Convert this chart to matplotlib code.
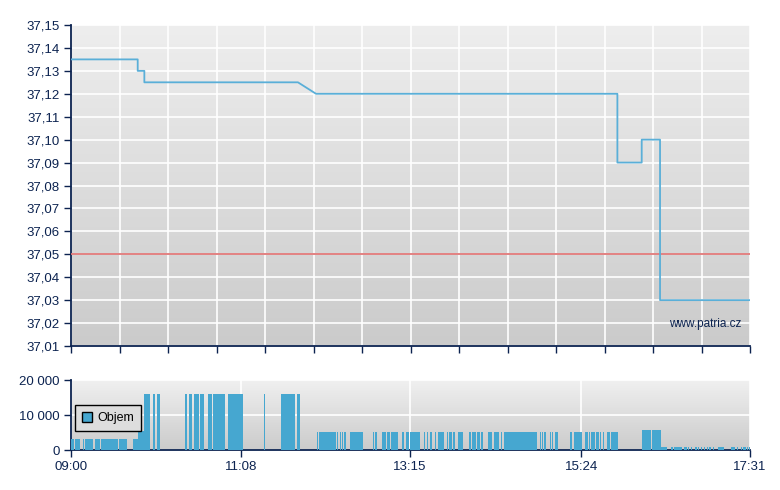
import numpy as np
import matplotlib
matplotlib.use('Agg')
import matplotlib.pyplot as plt
from matplotlib.patches import Patch

NAVY = '#0c2350'
LINE_BLUE = '#5aafd8'
BAR_BLUE = '#46a7d0'

# price (minutes since 09:00)
price_t = [0, 50.2, 50.2, 55.2, 55.2, 170.8, 184.4, 411.2, 411.2, 429.5, 429.5, 443.3, 443.3, 511]
price_v = [37.135, 37.135, 37.13, 37.13, 37.125, 37.125, 37.12, 37.12, 37.09, 37.09, 37.10, 37.10, 37.03, 37.03]
prev_close = 37.05

# volume blocks (minutes since 09:00)
vol_start = [0, 3.2, 8.8, 10.5, 18.3, 22.8, 36.4, 46.4, 50.2, 54.9, 61.9, 64.9, 85.8, 88.8, 92.8,
             97.3, 103.1, 107.1, 118.4, 145.3, 158, 170.1, 185.4, 186.4, 200.4, 202.2, 203.7, 205.5,
             210, 227.3, 229, 234, 237.8, 241.1, 242.6, 249.1, 252.1, 255.1, 265.7, 267.9, 270.2,
             273.9, 276.2, 283, 284.7, 287.7, 291.3, 299.5, 301.8, 305.6, 308.6, 313.8, 318.3, 323.6,
             325.9, 353, 354.5, 356, 360.5, 362, 364.3, 375.5, 378.6, 386.8, 389.8, 391.3, 395.1,
             398.1, 400.4, 403.4, 406.4, 429.7, 437.3, 444, 451.6, 453.8, 461.3, 464.4, 466.6, 469.6,
             471.9, 474.2, 476.4, 478.7, 480.2, 483.2, 486.9, 496.7, 501.2, 504.2, 505.7, 508.5, 510.2]
vol_end = [2.3, 6.8, 9.8, 16.8, 21.8, 35.6, 41.9, 50.2, 54.9, 59.5, 63.4, 67.2, 87.1, 91.3, 96.3,
           100.1, 106.1, 116.1, 129.2, 146, 168.4, 172.3, 186.1, 199.4, 201.2, 203, 204.5, 206.7,
           219.5, 228, 230.5, 237.1, 239.9, 242.1, 246.1, 250.9, 254.4, 262.7, 266.7, 268.7, 271.4,
           274.7, 280.7, 283.7, 287, 289, 295, 301, 304.8, 307.8, 310.1, 316.8, 322.1, 324.6,
           350.7, 353.7, 355.2, 357.5, 361.2, 362.7, 366.5, 377, 384.6, 389.1, 390.6, 394.4, 397.4,
           398.9, 401.1, 405.6, 411.7, 436.5, 444, 448.5, 453.1, 459.9, 463.6, 465.1, 467.3, 471.1,
           472.6, 474.9, 477.2, 479.4, 481.7, 483.9, 491.5, 499.7, 502, 505, 508, 509.2, 511]
vol_size = [3200] * 8 + [5400] + [16000] * 13 + [5100] * 49 + [5700, 5700] + [850] * 14 + [900] * 6

xtick_pos = [0, 128, 255, 384, 511]
xtick_lab = ['09:00', '11:08', '13:15', '15:24', '17:31']
price_ticks = [37.01 + 0.01 * i for i in range(15)]

plt.rcParams['font.family'] = ['Liberation Sans', 'DejaVu Sans']

fig = plt.figure(figsize=(7.8, 4.9), dpi=100)
ax = fig.add_axes([71 / 780, 1 - 346 / 490, 679 / 780, 321 / 490])
axv = fig.add_axes([71 / 780, 1 - 450 / 490, 679 / 780, 70 / 490])


def gradient_bg(a, top='#eeeeee', bottom='#cbcbcb'):
    g = np.linspace(0, 1, 256).reshape(-1, 1)
    cmap = matplotlib.colors.LinearSegmentedColormap.from_list('bg', [top, bottom])
    a.imshow(g, aspect='auto', cmap=cmap, extent=[0, 1, 0, 1], transform=a.transAxes, zorder=0)


def style(a):
    for s in ['top', 'right']:
        a.spines[s].set_visible(False)
    for s in ['left', 'bottom']:
        a.spines[s].set_color(NAVY)
        a.spines[s].set_linewidth(1.3)
    a.tick_params(colors=NAVY, labelcolor=NAVY, length=5, width=1, labelsize=9.5, pad=3)
    a.set_xlim(0, 511)


# main price chart
gradient_bg(ax)
style(ax)
ax.set_ylim(37.01, 37.15)
ax.set_yticks(price_ticks)
ax.set_yticklabels([f'{v:.2f}'.replace('.', ',') for v in price_ticks])
ax.set_xticks(np.linspace(0, 511, 15))
ax.set_xticklabels([])
ax.grid(True, color='white', linewidth=1.2, zorder=1)
ax.set_axisbelow(True)
ax.axhline(prev_close, color='#e07878', linewidth=1.3, zorder=3)
ax.plot(price_t, price_v, color=LINE_BLUE, linewidth=1.3, zorder=4)
ax.text(0.988, 0.07, 'www.patria.cz', transform=ax.transAxes, ha='right', va='center',
        color=NAVY, fontsize=8.5)

# volume chart
gradient_bg(axv, '#f0f0f0', '#cbcbcb')
style(axv)
axv.set_ylim(0, 20000)
axv.set_yticks([0, 10000, 20000])
axv.set_yticklabels(['0', '10 000', '20 000'])
axv.set_xticks(xtick_pos)
axv.set_xticklabels(xtick_lab)
axv.grid(True, color='white', linewidth=1.2, zorder=1)
axv.set_axisbelow(True)
widths = [e - s for s, e in zip(vol_start, vol_end)]
axv.bar(vol_start, vol_size, width=widths, align='edge', color=BAR_BLUE, linewidth=0, zorder=3)
leg = axv.legend(handles=[Patch(facecolor=BAR_BLUE, edgecolor='black', label='Objem')],
                 loc='upper left', bbox_to_anchor=(0.006, 0.64), fancybox=False, framealpha=1,
                 handlelength=0.8, handleheight=0.8, handletextpad=0.4, fontsize=9,
                 borderpad=0.55, borderaxespad=0)
leg.get_frame().set_edgecolor('black')
leg.get_frame().set_facecolor('#dddddd')
leg.set_zorder(5)

fig.savefig('out.png', dpi=100)
